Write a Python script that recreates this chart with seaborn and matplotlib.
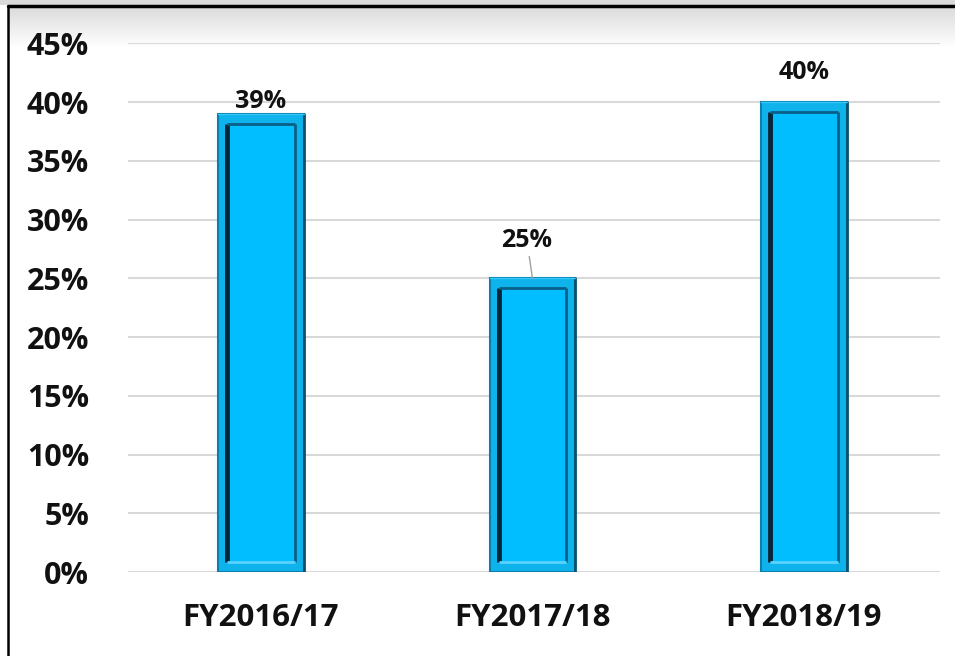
import numpy as np
import pandas as pd
import seaborn as sns
import matplotlib.pyplot as plt
from matplotlib.lines import Line2D
from matplotlib.patches import Rectangle

# data
years = ["FY2016/17", "FY2017/18", "FY2018/19"]
shares = [0.39, 0.25, 0.40]
labels = ["39%", "25%", "40%"]
yticks = [0, 0.05, 0.10, 0.15, 0.20, 0.25, 0.30, 0.35, 0.40, 0.45]

df = pd.DataFrame({"year": years, "share": shares})

sns.set_theme(style="white")
plt.rcParams["font.family"] = ["Open Sans", "DejaVu Sans"]

fig = plt.figure(figsize=(9.55, 6.56), dpi=100)

# frame background: soft shadow along the top edge (drawn first, behind the chart)
sh = fig.add_axes([9 / 955, 1 - 48 / 656, 1 - 9 / 955, 41 / 656], zorder=0)
grad = np.linspace(0.86, 1.0, 64).reshape(-1, 1)
sh.imshow(grad, cmap="gray", vmin=0, vmax=1, aspect="auto", extent=[0, 1, 0, 1])
sh.axis("off")
top = fig.add_axes([0, 1 - 5 / 656, 1, 5 / 656], zorder=0)
top.imshow(np.array([[0.85]]), cmap="gray", vmin=0, vmax=1, aspect="auto")
top.axis("off")

ax = fig.add_axes([0.134, 0.128, 0.850, 0.806], zorder=2)
ax.patch.set_alpha(0)

sns.barplot(data=df, x="year", y="share", color="#0FB3EC", width=0.316,
            edgecolor="#0A7FAE", linewidth=1.5, saturation=1, ax=ax, zorder=3)

# bevel look: inner rectangle inside each bar
for p in ax.patches:
    x0, y0 = p.get_x(), p.get_y()
    w, h = p.get_width(), p.get_height()
    dx, dy = 0.033, 0.0085
    ix0, ix1 = x0 + dx, x0 + w - dx
    iy0, iy1 = y0 + dy, y0 + h - dy
    ax.add_patch(Rectangle((ix0, iy0), ix1 - ix0, iy1 - iy0, facecolor="#00BEFF",
                           edgecolor="none", zorder=4))
    ax.plot([ix0, ix0], [iy0, iy1], color="#06263A", lw=3.5, zorder=5, solid_capstyle="butt")
    ax.plot([ix0, ix1], [iy1, iy1], color="#0A5F86", lw=2, zorder=5, solid_capstyle="butt")
    ax.plot([ix1, ix1], [iy0, iy1], color="#0A5F86", lw=2, zorder=5, solid_capstyle="butt")
    ax.plot([ix0, ix1], [iy0, iy0], color="#5AD2FF", lw=2, zorder=5, solid_capstyle="butt")
    ax.plot([x0 + w, x0 + w], [y0, y0 + h], color="#0B4F6E", lw=2, zorder=5)
    ax.plot([x0, x0 + w], [y0 + h, y0 + h], color="#35C8FA", lw=1, zorder=5)

# value labels (offsets in points)
offsets = [0, 18, 12]
for i, (v, lab) in enumerate(zip(shares, labels)):
    if offsets[i] > 15:
        ax.annotate(lab, xy=(i, v), xytext=(-4, offsets[i]), textcoords="offset points",
                    ha="center", va="bottom", fontsize=18, fontweight="bold", color="#111111",
                    arrowprops=dict(arrowstyle="-", color="#A0A0A0", lw=1,
                                    shrinkA=0, shrinkB=0), zorder=6)
    else:
        ax.annotate(lab, xy=(i, v), xytext=(0, offsets[i]), textcoords="offset points",
                    ha="center", va="bottom", fontsize=18, fontweight="bold", color="#111111",
                    zorder=6)

ax.set_xlim(-0.49, 2.5)
ax.set_ylim(0, 0.45)
ax.set_yticks(yticks)
ax.set_yticklabels([f"{int(round(t * 100))}%" for t in yticks])
ax.yaxis.grid(True, color="#D9D9D9", lw=1.5, zorder=0)
ax.set_axisbelow(True)
for s in ax.spines.values():
    s.set_visible(False)
ax.tick_params(axis="y", length=0, pad=28, labelsize=22, labelcolor="#111111")
ax.tick_params(axis="x", length=0, pad=22, labelsize=22.5, labelcolor="#111111")
for t in ax.get_xticklabels() + ax.get_yticklabels():
    t.set_fontweight("bold")
ax.set_xlabel("")
ax.set_ylabel("")

fig.add_artist(Line2D([8 / 955, 1], [1 - 6 / 656, 1 - 6 / 656], color="black", lw=2.5,
                      transform=fig.transFigure))
fig.add_artist(Line2D([8 / 955, 8 / 955], [0, 1 - 6 / 656], color="black", lw=1.8,
                      transform=fig.transFigure))

fig.savefig("out.png", dpi=100)
